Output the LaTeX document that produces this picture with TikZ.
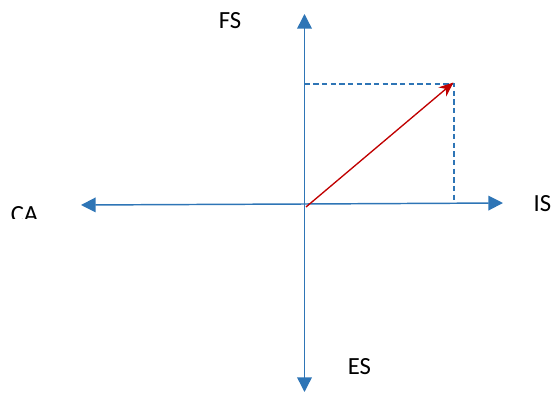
\documentclass[tikz,border=0pt]{standalone}
\usepackage{fontspec}
\setmainfont{Carlito}
\usetikzlibrary{arrows.meta, positioning}
\definecolor{axisblue}{RGB}{46,117,182}
\definecolor{vecred}{RGB}{192,0,0}

\begin{document}
\begin{tikzpicture}[x=0.75pt, y=-0.75pt, font=\fontsize{18.5}{22}\selectfont,
    axis/.style={draw=axisblue, line width=1.1pt, -{Triangle[length=11pt, width=11pt]}},
    guide/.style={draw=axisblue, line width=1pt, dash pattern=on 4pt off 2.5pt}]
        \useasboundingbox (0,0) rectangle (551,396);
        \coordinate (O) at (304.5,204);
        \coordinate (T) at (304.5,14);
        \coordinate (B) at (304.5,392);
        \coordinate (L) at (81,205);
        \coordinate (R) at (503,203);
        \coordinate (S) at (306,207);
        \coordinate (P) at (453.5,82.5);
        \coordinate (C) at (454,84);
        \coordinate (Cy) at (304.5,84);
        \coordinate (Cx) at (454,200);
        \node (FS) at (230,21) {FS};
        \node (IS) at (542.5,204) {IS};
        \node (ES) at (359.5,366.5) {ES};
        \begin{scope}
            \clip (0,190) rectangle (60,218.7);
            \node (CA) at (24.5,214.5) {CA};
        \end{scope}
        \draw[guide] (Cy) -- (C) -- (Cx);
        \draw[axis] (O) -- (T);
        \draw[axis] (O) -- (B);
        \draw[axis] (O) -- (L);
        \draw[axis] (O) -- (R);
        \draw[vecred, line width=1pt, -{Stealth[length=11pt, width=9pt]}] (S) -- (P);
    \end{tikzpicture}
\end{document}
